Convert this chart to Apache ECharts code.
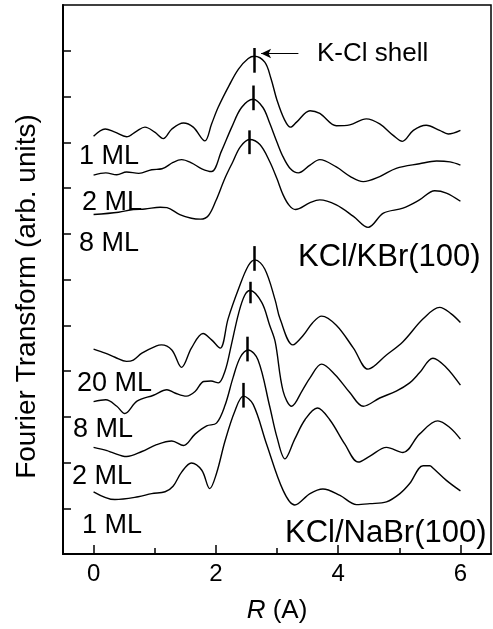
<!DOCTYPE html>
<html><head><meta charset="utf-8">
<script src="https://cdn.jsdelivr.net/npm/echarts@6/dist/echarts.min.js"></script>
<style>html,body{margin:0;padding:0;background:#fff}#c{width:493px;height:629px}</style>
</head><body><div id="c"></div>
<script>
const FONT = '"Liberation Sans", Arial, Helvetica, sans-serif';

// ---- axis ticks ----
const xTicks = [0, 2, 4, 6];
const xMinorTicks = [1, 3, 5];
const yTicks = [1, 2, 3, 4, 5, 6, 7, 8, 9, 10, 11];

// ---- curves: [R, offset FT amplitude] ----
const kbr1ML = [[0.00,9.13],[0.19,9.29],[0.35,9.22],[0.54,9.12],[0.70,9.24],[0.84,9.33],[1.00,9.22],[1.14,9.08],[1.28,9.29],[1.47,9.42],[1.63,9.33],[1.82,9.03],[1.93,9.40],[2.04,9.77],[2.22,10.25],[2.37,10.60],[2.53,10.83],[2.63,10.88],[2.80,10.75],[2.90,10.40],[3.00,9.92],[3.12,9.50],[3.22,9.33],[3.32,9.44],[3.54,9.69],[3.70,9.63],[3.97,9.36],[4.19,9.38],[4.46,9.51],[4.68,9.40],[4.90,9.15],[5.05,9.02],[5.23,9.26],[5.44,9.37],[5.66,9.26],[5.80,9.18],[6.00,9.26]];
const kbr2ML = [[0.00,8.28],[0.20,8.33],[0.38,8.29],[0.54,8.35],[0.74,8.32],[0.95,8.40],[1.12,8.42],[1.30,8.56],[1.44,8.62],[1.60,8.55],[1.77,8.42],[1.93,8.36],[2.09,8.80],[2.26,9.33],[2.42,9.76],[2.61,9.94],[2.77,9.76],[2.88,9.42],[3.00,9.00],[3.10,8.68],[3.22,8.42],[3.35,8.33],[3.54,8.50],[3.70,8.62],[3.97,8.46],[4.20,8.25],[4.41,8.14],[4.68,8.25],[4.95,8.43],[5.33,8.53],[5.61,8.59],[5.83,8.57],[6.00,8.50]];
const kbr8ML = [[0.00,7.42],[0.41,7.47],[0.65,7.53],[0.84,7.54],[1.09,7.58],[1.20,7.57],[1.41,7.42],[1.60,7.34],[1.75,7.32],[1.88,7.40],[2.00,7.72],[2.15,8.22],[2.28,8.58],[2.40,8.90],[2.55,9.06],[2.72,8.95],[2.88,8.58],[3.00,8.20],[3.10,7.85],[3.20,7.62],[3.30,7.53],[3.54,7.68],[3.70,7.74],[3.97,7.63],[4.25,7.38],[4.49,7.14],[4.74,7.45],[5.06,7.56],[5.33,7.74],[5.58,7.94],[5.77,7.89],[6.00,7.71]];
const nabr20ML = [[0.00,4.48],[0.19,4.39],[0.35,4.30],[0.54,4.21],[0.65,4.24],[0.79,4.39],[1.03,4.55],[1.11,4.57],[1.28,4.46],[1.44,4.08],[1.60,4.50],[1.79,4.82],[1.93,4.68],[2.07,4.50],[2.20,5.14],[2.37,5.79],[2.53,6.30],[2.64,6.43],[2.80,6.23],[2.97,5.55],[3.05,5.14],[3.26,4.57],[3.43,4.78],[3.58,5.05],[3.73,5.20],[3.97,5.00],[4.25,4.50],[4.49,4.04],[4.79,4.35],[5.06,4.64],[5.39,5.14],[5.66,5.39],[5.85,5.25],[6.00,5.06]];
const nabr8ML = [[0.00,3.33],[0.20,3.37],[0.38,3.23],[0.51,3.07],[0.71,3.34],[0.98,3.47],[1.20,3.59],[1.33,3.52],[1.52,3.45],[1.66,3.55],[1.80,3.77],[1.92,3.78],[2.04,3.74],[2.15,4.00],[2.25,4.55],[2.37,5.25],[2.47,5.65],[2.56,5.76],[2.75,5.50],[2.88,5.00],[2.97,4.64],[3.10,3.56],[3.24,3.23],[3.42,3.59],[3.54,3.85],[3.73,4.15],[3.95,3.92],[4.19,3.53],[4.41,3.23],[4.68,3.41],[4.95,3.56],[5.17,3.74],[5.33,3.96],[5.55,4.28],[5.76,4.09],[6.00,3.69]];
const nabr2ML = [[0.00,2.33],[0.22,2.26],[0.30,2.22],[0.54,2.13],[0.79,2.24],[1.03,2.39],[1.28,2.47],[1.47,2.37],[1.66,2.62],[1.85,2.80],[2.01,2.86],[2.15,3.25],[2.28,3.85],[2.40,4.30],[2.53,4.46],[2.69,4.24],[2.88,3.23],[3.00,2.55],[3.13,2.08],[3.29,2.51],[3.46,2.94],[3.66,3.19],[3.86,2.94],[4.11,2.40],[4.33,2.01],[4.52,2.14],[4.79,2.33],[5.06,2.22],[5.33,2.62],[5.63,2.91],[5.83,2.76],[6.00,2.51]];
const nabr1ML = [[0.00,1.36],[0.35,1.19],[0.73,1.25],[0.95,1.32],[1.17,1.36],[1.30,1.48],[1.44,1.79],[1.60,1.99],[1.77,1.83],[1.90,1.43],[2.01,1.76],[2.15,2.47],[2.31,3.12],[2.45,3.45],[2.61,3.27],[2.83,2.40],[3.10,1.39],[3.29,1.07],[3.54,1.32],[3.75,1.42],[4.03,1.28],[4.30,1.08],[4.52,1.10],[4.79,1.14],[5.01,1.32],[5.17,1.54],[5.39,1.93],[5.50,1.93],[5.55,1.88],[5.77,1.61],[6.00,1.38]];

const curves = [kbr1ML, kbr2ML, kbr8ML, nabr20ML, nabr8ML, nabr2ML, nabr1ML];
const curveNames = ['KCl/KBr 1 ML','KCl/KBr 2 ML','KCl/KBr 8 ML','KCl/NaBr 20 ML','KCl/NaBr 8 ML','KCl/NaBr 2 ML','KCl/NaBr 1 ML'];

// ---- K-Cl shell peak markers (R position, lower and upper y) ----
const peakR  = [2.62, 2.61, 2.55, 2.62, 2.56, 2.51, 2.45];
const peakLo = [10.52, 9.70, 8.74, 6.19, 5.48, 4.21, 3.20];
const peakHi = [11.06, 10.24, 9.26, 6.73, 5.95, 4.75, 3.74];

// ---- arrow to the K-Cl shell ----
const arrowFrom = [3.35, 10.94];
const arrowTo = [2.74, 10.94];

// ---- text ----
const labelTexts = ['K-Cl shell','1 ML','2 ML','8 ML','KCl/KBr(100)','20 ML','8 ML','2 ML','1 ML','KCl/NaBr(100)'];
const yTitle = 'Fourier Transform (arb. units)';

// layout of annotations (pixels: left x, middle y, font size)
const labelLayout = [
  [317, 54, 26], [79, 157, 27], [82, 203, 27], [79, 244, 27], [298, 257, 31],
  [77, 384, 27], [73, 430, 27], [72, 477, 27], [82, 526, 27], [285, 533, 31]
];

const chart = echarts.init(document.getElementById('c'), null, {renderer: 'canvas'});

const series = curves.map((d, i) => ({
  type: 'line', name: curveNames[i], data: d, smooth: 0.35,
  symbol: 'none', silent: true, animation: false,
  lineStyle: {color: '#000', width: 1.4},
  emphasis: {disabled: true},
  markLine: {
    silent: true, animation: false, symbol: ['none', 'none'],
    label: {show: false},
    lineStyle: {color: '#000', width: 2.5, type: 'solid'},
    emphasis: {disabled: true},
    data: [[{coord: [peakR[i], peakLo[i]]}, {coord: [peakR[i], peakHi[i]]}]]
  }
}));

series.push({
  type: 'line', name: 'arrow', data: [arrowFrom, arrowTo], symbol: 'none', silent: true,
  animation: false, lineStyle: {opacity: 0},
  markLine: {
    silent: true, animation: false, symbol: ['none', 'arrow'], symbolSize: [7, 10],
    label: {show: false},
    lineStyle: {color: '#000', width: 1, type: 'solid'},
    emphasis: {disabled: true},
    data: [[{coord: arrowFrom}, {coord: arrowTo}]]
  }
});

const graphics = labelTexts.map((t, i) => ({
  type: 'text', x: labelLayout[i][0], y: labelLayout[i][1], silent: true,
  style: {text: t, font: labelLayout[i][2] + 'px ' + FONT, fill: '#000',
          align: 'left', verticalAlign: 'middle', textAlign: 'left', textVerticalAlign: 'middle'}
}));

chart.setOption({
  animation: false,
  backgroundColor: '#fff',
  grid: {left: 63, right: 2, top: 5, bottom: 68, show: true, borderColor: '#000', borderWidth: 1.5, containLabel: false},
  xAxis: [{
    type: 'value', min: -0.5, max: 6.5, position: 'bottom',
    axisLine: {show: true, onZero: false, lineStyle: {color: '#000', width: 2}},
    axisTick: {show: true, inside: true, length: 9, customValues: xTicks, lineStyle: {color: '#000', width: 1.5}},
    axisLabel: {show: true, customValues: xTicks, fontSize: 24, color: '#000', fontFamily: FONT, margin: 8},
    splitLine: {show: false},
    name: '{i|R} (A)', nameLocation: 'middle', nameGap: 44,
    nameTextStyle: {fontSize: 26, color: '#000', fontFamily: FONT,
      rich: {i: {fontStyle: 'italic', fontSize: 26, color: '#000', fontFamily: FONT}}}
  }, {
    type: 'value', min: -0.5, max: 6.5, position: 'bottom',
    axisLine: {show: false},
    axisTick: {show: true, inside: true, length: 6, customValues: xMinorTicks, lineStyle: {color: '#000', width: 1.5}},
    axisLabel: {show: false}, splitLine: {show: false}
  }],
  yAxis: {
    type: 'value', min: 0, max: 12, interval: 1,
    axisLine: {show: true, onZero: false, lineStyle: {color: '#000', width: 2}},
    axisTick: {show: true, inside: true, length: 8, customValues: yTicks, lineStyle: {color: '#000', width: 1.5}},
    axisLabel: {show: false}, splitLine: {show: false},
    name: yTitle, nameLocation: 'middle', nameGap: 22,
    nameTextStyle: {fontSize: 28, color: '#000', fontFamily: FONT, padding: [0, 34, 0, 0]}
  },
  series: series,
  graphic: graphics
});
</script></body></html>
